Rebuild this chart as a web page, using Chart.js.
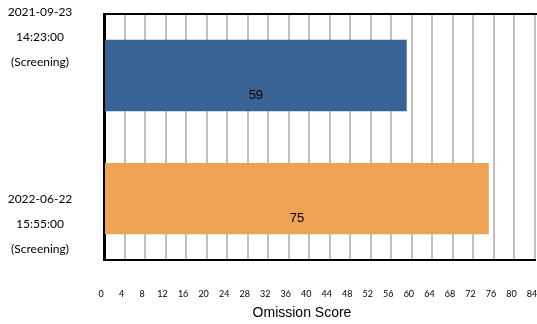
<!DOCTYPE html>
<html>
<head>
<meta charset="utf-8">
<script src="https://cdn.jsdelivr.net/npm/chart.js@4/dist/chart.umd.min.js"></script>
<style>
  html, body { margin: 0; padding: 0; background: #fff; }
  #wrap { width: 537px; height: 324px; }
</style>
</head>
<body>
<div id="wrap"><canvas id="c"></canvas></div>
<script>
// data
const sessions = [
    ['2021-09-23', '14:23:00', '(Screening)'],
    ['2022-06-22', '15:55:00', '(Screening)']
];
const omissionScores = [59, 75];
const barColors = ['#3a6395', '#eea254'];
const xMin = 0;
const xMax = 84;
const xStep = 4;
const axisTitle = 'Omission Score';

// label placement tweaks (pixels)
const labelShift = [-38, 25];
const labelLineGap = 25;

const frame = {
    id: 'frame',
    afterDraw(chart) {
        const ctx = chart.ctx;
        const a = chart.chartArea;
        ctx.save();
        ctx.strokeStyle = '#000';
        ctx.lineWidth = 2;
        ctx.beginPath();
        ctx.moveTo(a.left - 1, a.top);
        ctx.lineTo(chart.width, a.top);
        ctx.stroke();

        // session labels on the left
        const y = chart.scales.y;
        ctx.fillStyle = '#000';
        ctx.font = '12px Lato';
        ctx.textAlign = 'center';
        ctx.textBaseline = 'middle';
        sessions.forEach((lines, i) => {
            const mid = y.getPixelForValue(i) + labelShift[i];
            lines.forEach((t, k) => {
                ctx.fillText(t, 40, mid + (k - 1) * labelLineGap);
            });
        });

        // values inside bars
        ctx.font = '13px "Liberation Sans"';
        const meta = chart.getDatasetMeta(0);
        meta.data.forEach((bar, i) => {
            const cx = (bar.base + bar.x) / 2;
            ctx.fillText(String(omissionScores[i]), cx, bar.y + 19.5);
        });

        // axis title
        ctx.font = '14px "Liberation Sans"';
        ctx.fillText(axisTitle, 302, 313);
        ctx.restore();
    }
};

new Chart(document.getElementById('c'), {
    type: 'bar',
    data: {
        labels: sessions.map(s => s.join(' ')),
        datasets: [{
            data: omissionScores,
            backgroundColor: barColors,
            borderWidth: 0,
            barPercentage: 0.58,
            categoryPercentage: 1
        }]
    },
    options: {
        indexAxis: 'y',
        responsive: true,
        maintainAspectRatio: false,
        animation: false,
        layout: { padding: { left: 96, top: 14, right: 2, bottom: 25 } },
        plugins: {
            legend: { display: false },
            tooltip: { enabled: false }
        },
        scales: {
            x: {
                min: xMin,
                max: xMax,
                afterFit: (scale) => {
                    // let the last tick label hang over the edge like the original
                    scale.paddingLeft = 0;
                    scale.paddingRight = 0;
                },
                ticks: {
                    stepSize: xStep,
                    padding: 0,
                    labelOffset: -3,
                    color: '#000',
                    font: { family: 'Lato', size: 9 },
                    maxRotation: 0,
                    autoSkip: false
                },
                grid: {
                    color: '#c0c0c0',
                    lineWidth: 2,
                    drawTicks: true,
                    tickLength: 28,
                    tickColor: 'rgba(0,0,0,0)'
                },
                border: { color: '#000', width: 2 }
            },
            y: {
                ticks: { display: false },
                grid: { display: false },
                border: { color: '#000', width: 3 }
            }
        }
    },
    plugins: [frame]
});
</script>
</body>
</html>
